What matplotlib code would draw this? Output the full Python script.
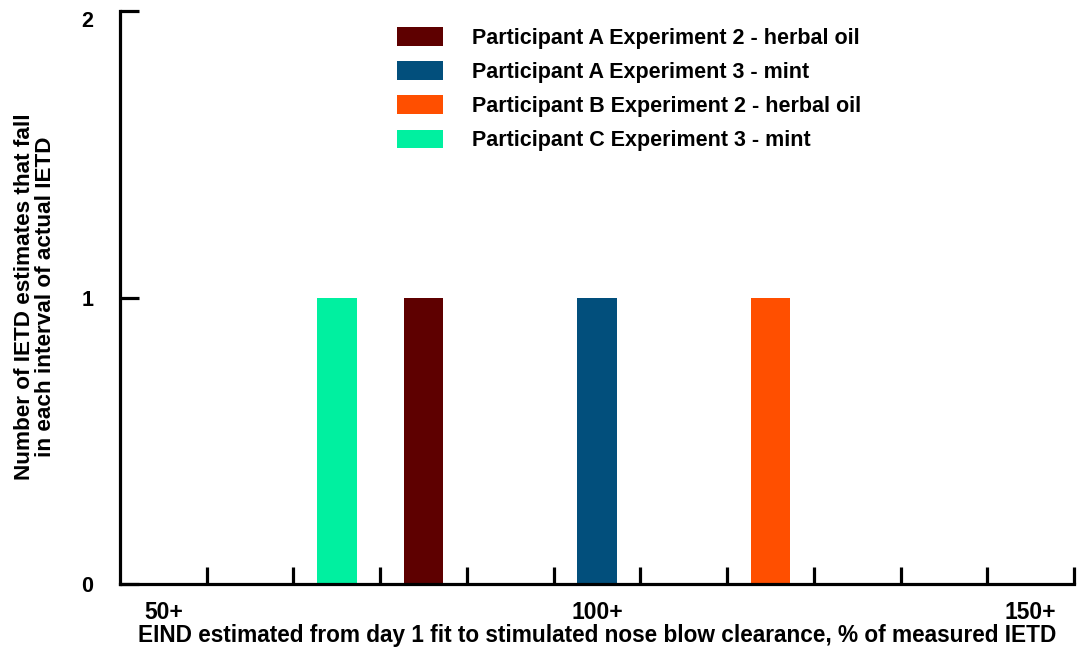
import matplotlib
matplotlib.use("Agg")
import matplotlib.pyplot as plt
from matplotlib.ticker import FixedLocator, NullFormatter
import numpy as np

plt.rcParams['font.family'] = ['Liberation Sans', 'DejaVu Sans']
plt.rcParams['font.weight'] = 'bold'
plt.rcParams['axes.labelweight'] = 'bold'

# Interval bins (% of measured IETD)
bins = ['50+', '60+', '70+', '80+', '90+', '100+', '110+', '120+', '130+', '140+', '150+']
shown_labels = ['50+', '100+', '150+']

series_names = [
    'Participant A Experiment 2 - herbal oil',
    'Participant A Experiment 3 - mint',
    'Participant B Experiment 2 - herbal oil',
    'Participant C Experiment 3 - mint',
]
a_exp2_herbal = [0, 0, 0, 1, 0, 0, 0, 0, 0, 0, 0]
a_exp3_mint = [0, 0, 0, 0, 0, 1, 0, 0, 0, 0, 0]
b_exp2_herbal = [0, 0, 0, 0, 0, 0, 0, 1, 0, 0, 0]
c_exp3_mint = [0, 0, 1, 0, 0, 0, 0, 0, 0, 0, 0]
series_values = [a_exp2_herbal, a_exp3_mint, b_exp2_herbal, c_exp3_mint]
colors = ['#5e0000', '#024f7c', '#ff4f00', '#00f0a0']

FS = 15.5

W, H = 1080, 650
fig = plt.figure(figsize=(W / 100, H / 100), dpi=100)
ax = fig.add_axes([120 / W, (H - 584) / H, (1074 - 120) / W, (584 - 11) / H])

x = np.arange(len(bins))
for name, vals, col in zip(series_names, series_values, colors):
    vals = np.asarray(vals, dtype=float)
    mask = vals > 0
    ax.bar(x[mask], vals[mask], width=0.46, color=col, linewidth=0, label=name)

ax.set_xlim(-0.5, len(bins) - 0.5)
ax.set_ylim(0, 2)

for s in ['top', 'right']:
    ax.spines[s].set_visible(False)
for s in ['left', 'bottom']:
    ax.spines[s].set_linewidth(2.3)
    ax.spines[s].set_capstyle('projecting')

# y ticks
ax.set_yticks([0, 1, 2])
ax.set_yticklabels(['0', '1', '2'])
ax.tick_params(axis='y', direction='in', length=14, width=2.3, pad=19, labelsize=FS)
ylabels = ax.get_yticklabels()
ylabels[2].set_verticalalignment('top')

# x: labels at bin centres, tick marks at bin boundaries
label_pos = [bins.index(l) for l in shown_labels]
ax.xaxis.set_major_locator(FixedLocator(label_pos))
ax.set_xticklabels(shown_labels)
ax.xaxis.set_minor_locator(FixedLocator(np.arange(0.5, len(bins), 1.0)))
ax.xaxis.set_minor_formatter(NullFormatter())
ax.tick_params(axis='x', which='major', length=0, pad=12, labelsize=16.5)
ax.tick_params(axis='x', which='minor', direction='in', length=12, width=2.3)

ax.set_xlabel('EIND estimated from day 1 fit to stimulated nose blow clearance, % of measured IETD',
              fontsize=16.3, labelpad=0)
ax.set_ylabel('Number of IETD estimates that fall\nin each interval of actual IETD',
              fontsize=16.2, linespacing=1.0, va='center')
ax.yaxis.set_label_coords(35 / W, 1 - 297 / H, transform=fig.transFigure)

leg = ax.legend(loc='upper left', bbox_to_anchor=(397 / W, 1 - 27 / H),
                bbox_transform=fig.transFigure, frameon=False, fontsize=FS,
                borderpad=0, borderaxespad=0,
                handlelength=2.14, handleheight=0.95, handletextpad=1.35,
                labelspacing=0.58)

fig.savefig('out.png', dpi=100)
